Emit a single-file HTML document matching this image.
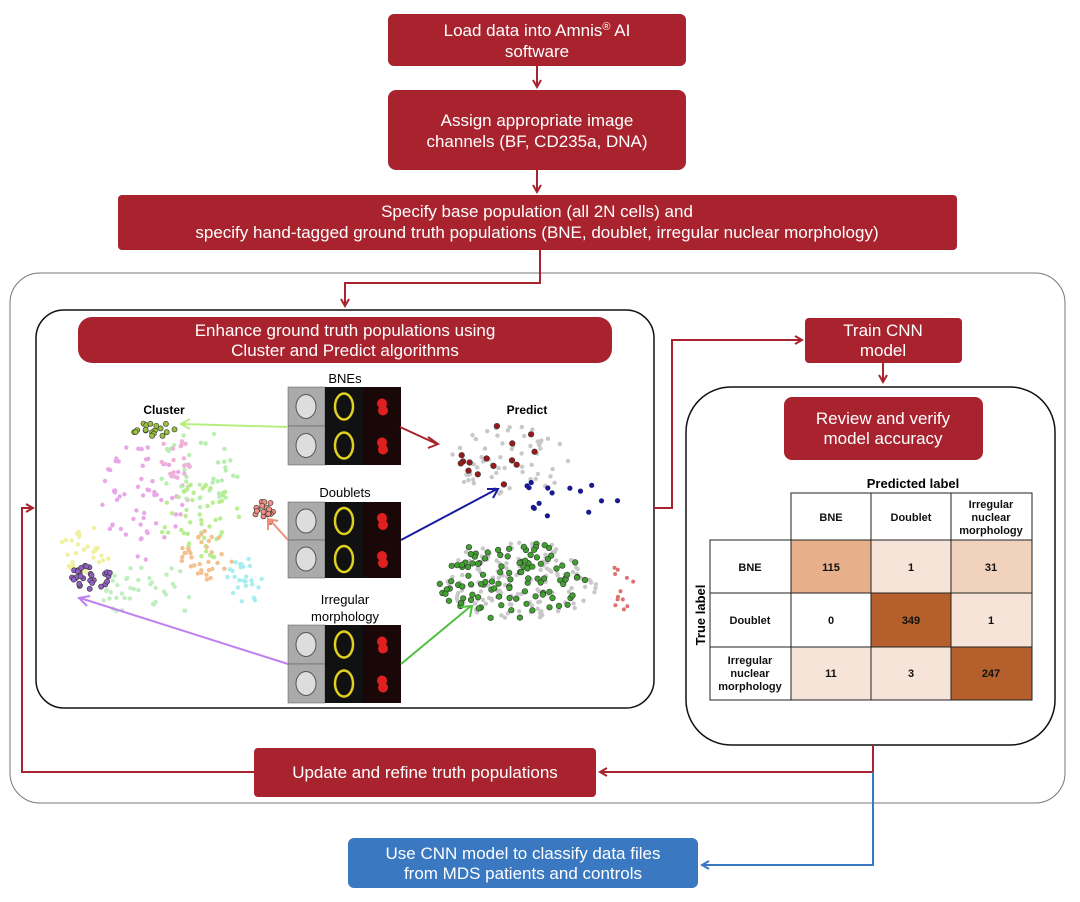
<!DOCTYPE html>
<html><head><meta charset="utf-8"><style>
body{margin:0;background:#fff;}
svg{display:block;font-family:"Liberation Sans",sans-serif;}
.bt{fill:#fff;font-size:17px;text-anchor:middle;}
.tt{font-size:11px;font-weight:bold;text-anchor:middle;fill:#111;}
</style></head><body>
<svg id="s" width="1080" height="902" viewBox="0 0 1080 902" xmlns="http://www.w3.org/2000/svg">
<defs>
<marker id="ar" markerWidth="10" markerHeight="10" refX="8" refY="5" orient="auto" markerUnits="userSpaceOnUse"><path d="M1,1 L8,5 L1,9" fill="none" stroke="#a8232e" stroke-width="2"/></marker>
<marker id="ab" markerWidth="10" markerHeight="10" refX="8" refY="5" orient="auto" markerUnits="userSpaceOnUse"><path d="M1,1 L8,5 L1,9" fill="none" stroke="#3a78c2" stroke-width="2"/></marker>
</defs>
<!-- outer container -->
<rect x="10" y="273" width="1055" height="530" rx="30" fill="none" stroke="#777" stroke-width="1"/>
<!-- top boxes -->
<rect x="388" y="14" width="298" height="52" rx="6" fill="#a8232e"/>
<text class="bt" x="537" y="36">Load data into Amnis<tspan font-size="11" dy="-6">®</tspan><tspan dy="6"> AI</tspan></text>
<text class="bt" x="537" y="57">software</text>
<line x1="537" y1="66" x2="537" y2="87" stroke="#a8232e" stroke-width="2" marker-end="url(#ar)"/>
<rect x="388" y="90" width="298" height="80" rx="8" fill="#a8232e"/>
<text class="bt" x="537" y="126">Assign appropriate image</text>
<text class="bt" x="537" y="147">channels (BF, CD235a, DNA)</text>
<line x1="537" y1="170" x2="537" y2="192" stroke="#a8232e" stroke-width="2" marker-end="url(#ar)"/>
<rect x="118" y="195" width="839" height="55" rx="4" fill="#a8232e"/>
<text class="bt" x="537" y="217">Specify base population (all 2N cells) and</text>
<text class="bt" x="537" y="238">specify hand-tagged ground truth populations (BNE, doublet, irregular nuclear morphology)</text>
<polyline points="540,250 540,283 345,283 345,306" fill="none" stroke="#a8232e" stroke-width="2" marker-end="url(#ar)"/>
<!-- inner box -->
<rect x="36" y="310" width="618" height="398" rx="28" fill="none" stroke="#111" stroke-width="1.5"/>
<rect x="78" y="317" width="534" height="46" rx="14" fill="#a8232e"/>
<text class="bt" x="345" y="336">Enhance ground truth populations using</text>
<text class="bt" x="345" y="356">Cluster and Predict algorithms</text>
<g id="dots"></g>
<text x="164" y="414" font-size="12" font-weight="bold" text-anchor="middle">Cluster</text>
<text x="527" y="414" font-size="12" font-weight="bold" text-anchor="middle">Predict</text>
<text x="345" y="383" font-size="13" text-anchor="middle">BNEs</text>
<text x="345" y="497" font-size="13" text-anchor="middle">Doublets</text>
<text x="345" y="604" font-size="13" text-anchor="middle">Irregular</text>
<text x="345" y="621" font-size="13" text-anchor="middle">morphology</text>
<g id="imgs"></g>
<!-- colored arrows -->
<g stroke-width="2" fill="none">
<line x1="288" y1="427" x2="182" y2="424" stroke="#b8ee80"/><path d="M190,419 L181,424 L190,429" stroke="#b8ee80"/>
<line x1="400" y1="427" x2="437" y2="444" stroke="#a8232e"/><path d="M428,437 L438,444 L428,448" stroke="#a8232e"/>
<line x1="288" y1="540" x2="270" y2="520" stroke="#f0907a"/><path d="M268,530 L268,519 L278,521" stroke="#f0907a"/>
<line x1="401" y1="540" x2="497" y2="489" stroke="#1a1aa0"/><path d="M487,489 L498,489 L493,498" stroke="#1a1aa0"/>
<line x1="288" y1="664" x2="80" y2="598" stroke="#c080f0"/><path d="M90,596 L79,598 L87,606" stroke="#c080f0"/>
<line x1="401" y1="664" x2="471" y2="606" stroke="#50c040"/><path d="M461,607 L472,606 L470,617" stroke="#50c040"/>
</g>
<!-- right side -->
<polyline points="654,508 672,508 672,340 802,340" fill="none" stroke="#a8232e" stroke-width="2" marker-end="url(#ar)"/>
<rect x="805" y="318" width="157" height="45" rx="4" fill="#a8232e"/>
<text class="bt" x="883" y="336">Train CNN</text>
<text class="bt" x="883" y="356">model</text>
<line x1="883" y1="363" x2="883" y2="382" stroke="#a8232e" stroke-width="2" marker-end="url(#ar)"/>
<rect x="686" y="387" width="369" height="358" rx="45" fill="none" stroke="#111" stroke-width="1.5"/>
<rect x="784" y="397" width="199" height="63" rx="8" fill="#a8232e"/>
<text class="bt" x="883" y="424">Review and verify</text>
<text class="bt" x="883" y="444">model accuracy</text>
<text x="913" y="488" font-size="13" font-weight="bold" text-anchor="middle">Predicted label</text>
<text x="0" y="0" font-size="13" font-weight="bold" text-anchor="middle" transform="translate(705,615) rotate(-90)">True label</text>
<g stroke="#222" stroke-width="1">
<rect x="791" y="540" width="80" height="53" fill="#e8b08a"/>
<rect x="871" y="540" width="80" height="53" fill="#f6e4d8"/>
<rect x="951" y="540" width="81" height="53" fill="#f1d2bc"/>
<rect x="791" y="593" width="80" height="54" fill="#fff"/>
<rect x="871" y="593" width="80" height="54" fill="#b5602c"/>
<rect x="951" y="593" width="81" height="54" fill="#f6e4d8"/>
<rect x="791" y="647" width="80" height="53" fill="#f6e4d8"/>
<rect x="871" y="647" width="80" height="53" fill="#f6e4d8"/>
<rect x="951" y="647" width="81" height="53" fill="#b5602c"/>
<polyline points="791,540 791,493 1032,493 1032,540" fill="none"/>
<line x1="871" y1="493" x2="871" y2="540"/><line x1="951" y1="493" x2="951" y2="540"/>
<polyline points="791,540 710,540 710,700 791,700" fill="none"/>
<line x1="710" y1="593" x2="791" y2="593"/><line x1="710" y1="647" x2="791" y2="647"/>
</g>
<text class="tt" x="831" y="521">BNE</text><text class="tt" x="911" y="521">Doublet</text>
<text class="tt" x="991" y="508">Irregular</text><text class="tt" x="991" y="521">nuclear</text><text class="tt" x="991" y="534">morphology</text>
<text class="tt" x="750" y="571">BNE</text><text class="tt" x="750" y="624">Doublet</text>
<text class="tt" x="750" y="664">Irregular</text><text class="tt" x="750" y="677">nuclear</text><text class="tt" x="750" y="690">morphology</text>
<text class="tt" x="831" y="571">115</text><text class="tt" x="911" y="571">1</text><text class="tt" x="991" y="571">31</text>
<text class="tt" x="831" y="624">0</text><text class="tt" x="911" y="624">349</text><text class="tt" x="991" y="624">1</text>
<text class="tt" x="831" y="677">11</text><text class="tt" x="911" y="677">3</text><text class="tt" x="991" y="677">247</text>
<!-- bottom -->
<polyline points="873,745 873,772 600,772" fill="none" stroke="#a8232e" stroke-width="2" marker-end="url(#ar)"/>
<rect x="254" y="748" width="342" height="49" rx="4" fill="#a8232e"/>
<text class="bt" x="425" y="778">Update and refine truth populations</text>
<polyline points="254,772 22,772 22,508 33,508" fill="none" stroke="#a8232e" stroke-width="2" marker-end="url(#ar)"/>
<polyline points="873,772 873,865 702,865" fill="none" stroke="#3a78c2" stroke-width="2" marker-end="url(#ab)"/>
<rect x="348" y="838" width="350" height="50" rx="6" fill="#3a78c2"/>
<text class="bt" x="523" y="859">Use CNN model to classify data files</text>
<text class="bt" x="523" y="879">from MDS patients and controls</text>
</svg>
<script>
var s=1;function r(){s=(s*16807)%2147483647;return (s-1)/2147483646;}
var g=document.getElementById('dots'),h='';
function cl(cx,cy,rx,ry,n,c,rad,st){for(var i=0;i<n;i++){var a=r()*6.283,d=Math.sqrt(r());h+='<circle cx="'+(cx+Math.cos(a)*d*rx).toFixed(1)+'" cy="'+(cy+Math.sin(a)*d*ry).toFixed(1)+'" r="'+rad+'" fill="'+c+'"'+(st?' stroke="#333" stroke-width="0.6"':'')+'/>';}}
cl(145,500,45,60,60,'#e8a8e8',2.2);cl(200,470,40,40,40,'#b8eeb0',2.2);cl(200,520,40,40,50,'#b8ee90',2.2);
cl(210,555,30,25,35,'#f3c090',2.2);cl(245,580,20,25,25,'#a8eef0',2.2);cl(85,550,25,25,30,'#f0f0a0',2.2);
cl(150,590,50,30,40,'#c0eec0',2.2);cl(175,460,25,20,20,'#f0b0d8',2.2);
cl(150,430,25,8,18,'#9ac040',2.6,1);cl(265,512,10,12,18,'#f09080',2.6,1);cl(92,578,22,15,30,'#9060c0',2.6,1);
cl(510,460,60,35,60,'#c8c8c8',2.2);cl(500,455,55,30,15,'#9a1a1a',2.8,1);cl(560,500,60,20,15,'#1a1a90',2.6);
cl(520,580,80,40,140,'#c8c8c8',2.2);cl(510,580,75,40,110,'#40a030',2.8,1);cl(620,590,15,25,12,'#e07070',2);
g.innerHTML=h;
var im=document.getElementById('imgs'),q='';
function panel(y0,y1,cell){var m=(y0+y1)/2;[[y0,m],[m,y1]].forEach(function(p){q+='<rect x="288" y="'+p[0]+'" width="37" height="'+(p[1]-p[0])+'" fill="#aaa" stroke="#555" stroke-width="0.5"/>';q+='<rect x="325" y="'+p[0]+'" width="38" height="'+(p[1]-p[0])+'" fill="#111"/>';q+='<rect x="363" y="'+p[0]+'" width="38" height="'+(p[1]-p[0])+'" fill="#1a0808"/>';var c=(p[0]+p[1])/2;q+='<ellipse cx="306" cy="'+c+'" rx="10" ry="12" fill="#ddd" stroke="#555"/>';q+='<ellipse cx="344" cy="'+c+'" rx="9" ry="13" fill="none" stroke="#e0d020" stroke-width="2.5"/>';q+='<circle cx="382" cy="'+(c-3)+'" r="5" fill="#e02020"/><circle cx="383" cy="'+(c+4)+'" r="5" fill="#e02020"/>';});}
panel(387,465);panel(502,578);panel(625,703);
im.innerHTML=q;
</script>
</body></html>
